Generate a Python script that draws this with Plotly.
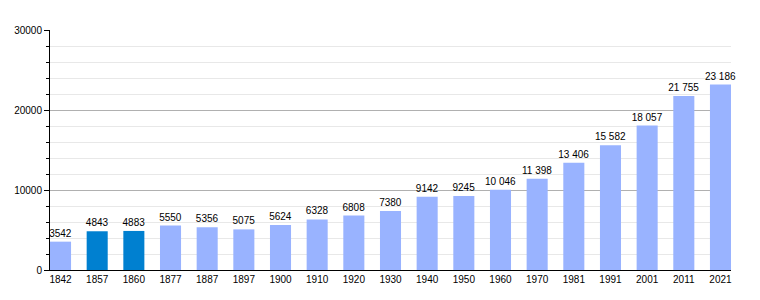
import plotly.graph_objects as go

years = ["1842", "1857", "1860", "1877", "1887", "1897", "1900", "1910", "1920", "1930",
         "1940", "1950", "1960", "1970", "1981", "1991", "2001", "2011", "2021"]
population = [3542, 4843, 4883, 5550, 5356, 5075, 5624, 6328, 6808, 7380,
              9142, 9245, 10046, 11398, 13406, 15582, 18057, 21755, 23186]
highlight = ["1857", "1860"]

LIGHT = "#99b3ff"
DARK = "#0080d0"

def fmt(v):
    if v >= 10000:
        return f"{v:,}".replace(",", "\u00a0")
    return str(v)

labels = [fmt(v) for v in population]
colors = [DARK if y in highlight else LIGHT for y in years]

BARGAP = 0.426
half = (1 - BARGAP) / 2
FONT = "Liberation Sans, Arial, sans-serif"

fig = go.Figure()
fig.add_trace(go.Bar(
    x=years, y=population,
    marker=dict(color=colors, line=dict(width=0)),
    text=labels, textposition="outside", cliponaxis=False,
    constraintext="none",
    textfont=dict(family=FONT, size=10, color="#000"),
    hoverinfo="x+y",
))

fig.update_layout(
    width=760, height=300,
    margin=dict(l=50, r=29, t=30, b=30),
    paper_bgcolor="white", plot_bgcolor="white",
    bargap=BARGAP, showlegend=False,
    font=dict(family=FONT, size=10, color="#000"),
)
fig.update_xaxes(
    type="category", range=[-half, len(years) - 1 + half],
    showline=True, linecolor="#000", linewidth=1,
    ticks="", showgrid=False, tickfont=dict(size=10),
)
fig.update_yaxes(
    range=[0, 30000], tickvals=[0, 10000, 20000, 30000],
    ticktext=["0", "10000", "20000", "30000"],
    showline=True, linecolor="#000", linewidth=1,
    ticks="outside", ticklen=5, tickcolor="#000",
    gridcolor="#b0b0b0", gridwidth=1, zeroline=False,
    minor=dict(dtick=2000, showgrid=True, gridcolor="#e8e8e8", ticks="outside", ticklen=3, tickcolor="#000"),
    tickfont=dict(size=10),
)

fig.write_html("out.html")
